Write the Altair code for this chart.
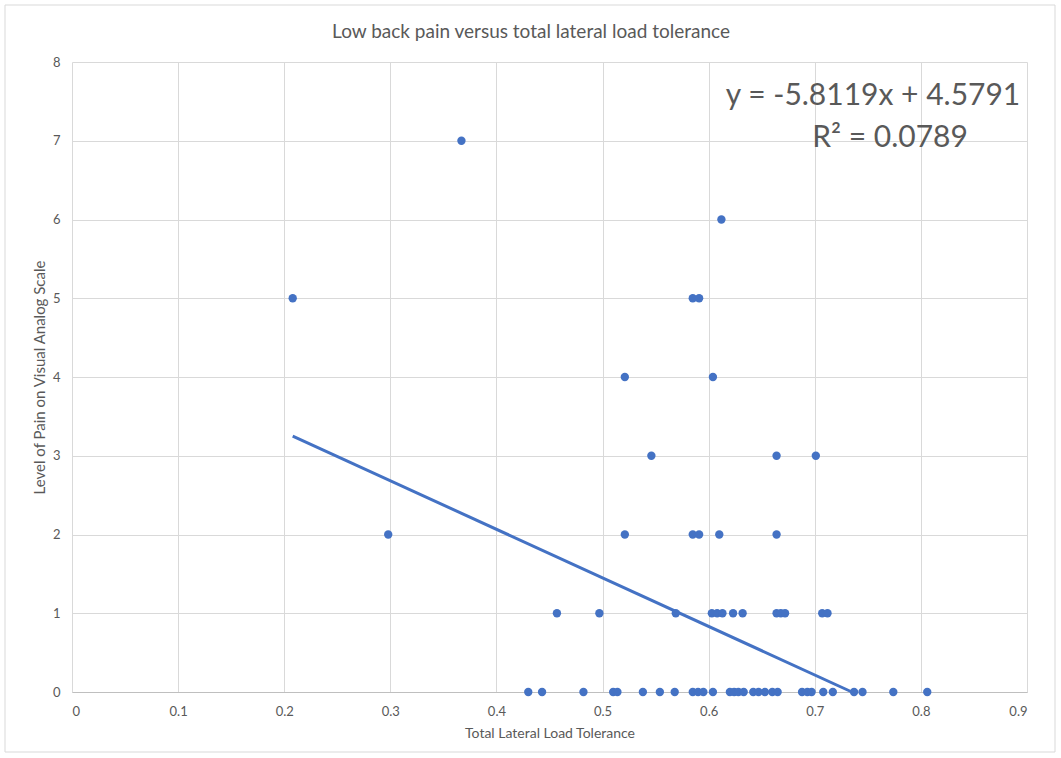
import altair as alt
import pandas as pd

# Scatter data
x_pain7 = [0.367]
x_pain6 = [0.612]
x_pain5 = [0.208, 0.585, 0.591]
x_pain4 = [0.521, 0.604]
x_pain3 = [0.546, 0.664, 0.701]
x_pain2 = [0.298, 0.521, 0.585, 0.591, 0.610, 0.664]
x_pain1 = [0.457, 0.497, 0.569, 0.603, 0.608, 0.613, 0.623, 0.632,
           0.664, 0.668, 0.672, 0.707, 0.712]
x_pain0 = [0.430, 0.443, 0.482, 0.510, 0.514, 0.538, 0.554, 0.568, 0.585,
           0.590, 0.595, 0.604, 0.620, 0.624, 0.628, 0.633, 0.642, 0.647,
           0.653, 0.660, 0.665, 0.688, 0.693, 0.697, 0.708, 0.717, 0.737,
           0.745, 0.774, 0.806]

groups = {7: x_pain7, 6: x_pain6, 5: x_pain5, 4: x_pain4, 3: x_pain3,
          2: x_pain2, 1: x_pain1, 0: x_pain0}
rows = [{"x": xv, "y": yv} for yv, xs in groups.items() for xv in xs]
df = pd.DataFrame(rows)

trend_x = [0.208, 0.735]
trend_y = [3.25, 0.0]
trend = pd.DataFrame({"x": trend_x, "y": trend_y})

x_ticks = [0, 0.1, 0.2, 0.3, 0.4, 0.5, 0.6, 0.7, 0.8, 0.9]
y_ticks = [0, 1, 2, 3, 4, 5, 6, 7, 8]

title_text = "Low back pain versus total lateral load tolerance"
eq_text = "y = -5.8119x + 4.5791"
r2_text = "R² = 0.0789"

FONT = "Lato"
BLUE = "#4472C4"
GRAY_TXT = "#595959"

xs = alt.Scale(domain=[0, 0.9], nice=False, zero=False)
ys = alt.Scale(domain=[0, 8], nice=False)

x_axis = alt.Axis(values=x_ticks, format="~g", title="Total Lateral Load Tolerance",
                  grid=True, gridColor="#d9d9d9", domain=True, domainColor="#bfbfbf",
                  ticks=False, labelPadding=13, titlePadding=8,
                  labelFontSize=13, titleFontSize=14, labelColor=GRAY_TXT,
                  titleColor=GRAY_TXT, labelFont=FONT, titleFont=FONT,
                  titleFontWeight="normal")
y_axis = alt.Axis(values=y_ticks, format="d", title="Level of Pain on Visual Analog Scale",
                  grid=True, gridColor="#d9d9d9", domain=False, ticks=False,
                  labelPadding=12, titlePadding=5,
                  labelFontSize=13, titleFontSize=15, labelColor=GRAY_TXT,
                  titleColor=GRAY_TXT, labelFont=FONT, titleFont=FONT,
                  titleFontWeight="normal")

border = alt.Chart(pd.DataFrame({"a": [0]})).mark_rect(
    fill=None, stroke="#d9d9d9", strokeWidth=1
).encode(x=alt.value(-67), x2=alt.value(983), y=alt.value(-57), y2=alt.value(690))

points = alt.Chart(df).mark_circle(size=70, color=BLUE, opacity=1).encode(
    x=alt.X("x:Q", scale=xs, axis=x_axis),
    y=alt.Y("y:Q", scale=ys, axis=y_axis),
)

line = alt.Chart(trend).mark_line(color=BLUE, strokeWidth=3).encode(
    x=alt.X("x:Q", scale=xs), y=alt.Y("y:Q", scale=ys)
)

title = alt.Chart(pd.DataFrame({"t": [title_text]})).mark_text(
    font=FONT, fontSize=19, color=GRAY_TXT, align="center", baseline="middle"
).encode(text="t:N", x=alt.value(459), y=alt.value(-30))

eq = alt.Chart(pd.DataFrame({"t": [eq_text]})).mark_text(
    font=FONT, fontSize=30, color=GRAY_TXT, align="center", baseline="middle"
).encode(text="t:N", x=alt.value(801), y=alt.value(34))

r2 = alt.Chart(pd.DataFrame({"t": [r2_text]})).mark_text(
    font=FONT, fontSize=30, color=GRAY_TXT, align="center", baseline="middle"
).encode(text="t:N", x=alt.value(818), y=alt.value(76))

chart = alt.layer(border, line, points, title, eq, r2).properties(
    width=955, height=630,
    padding={"left": 72, "top": 62, "right": 34, "bottom": 66},
    autosize=alt.AutoSizeParams(type="none"),
    background="white",
).configure_view(stroke=None)

chart.save("out.html", embed_options={"renderer": "svg", "actions": False})
